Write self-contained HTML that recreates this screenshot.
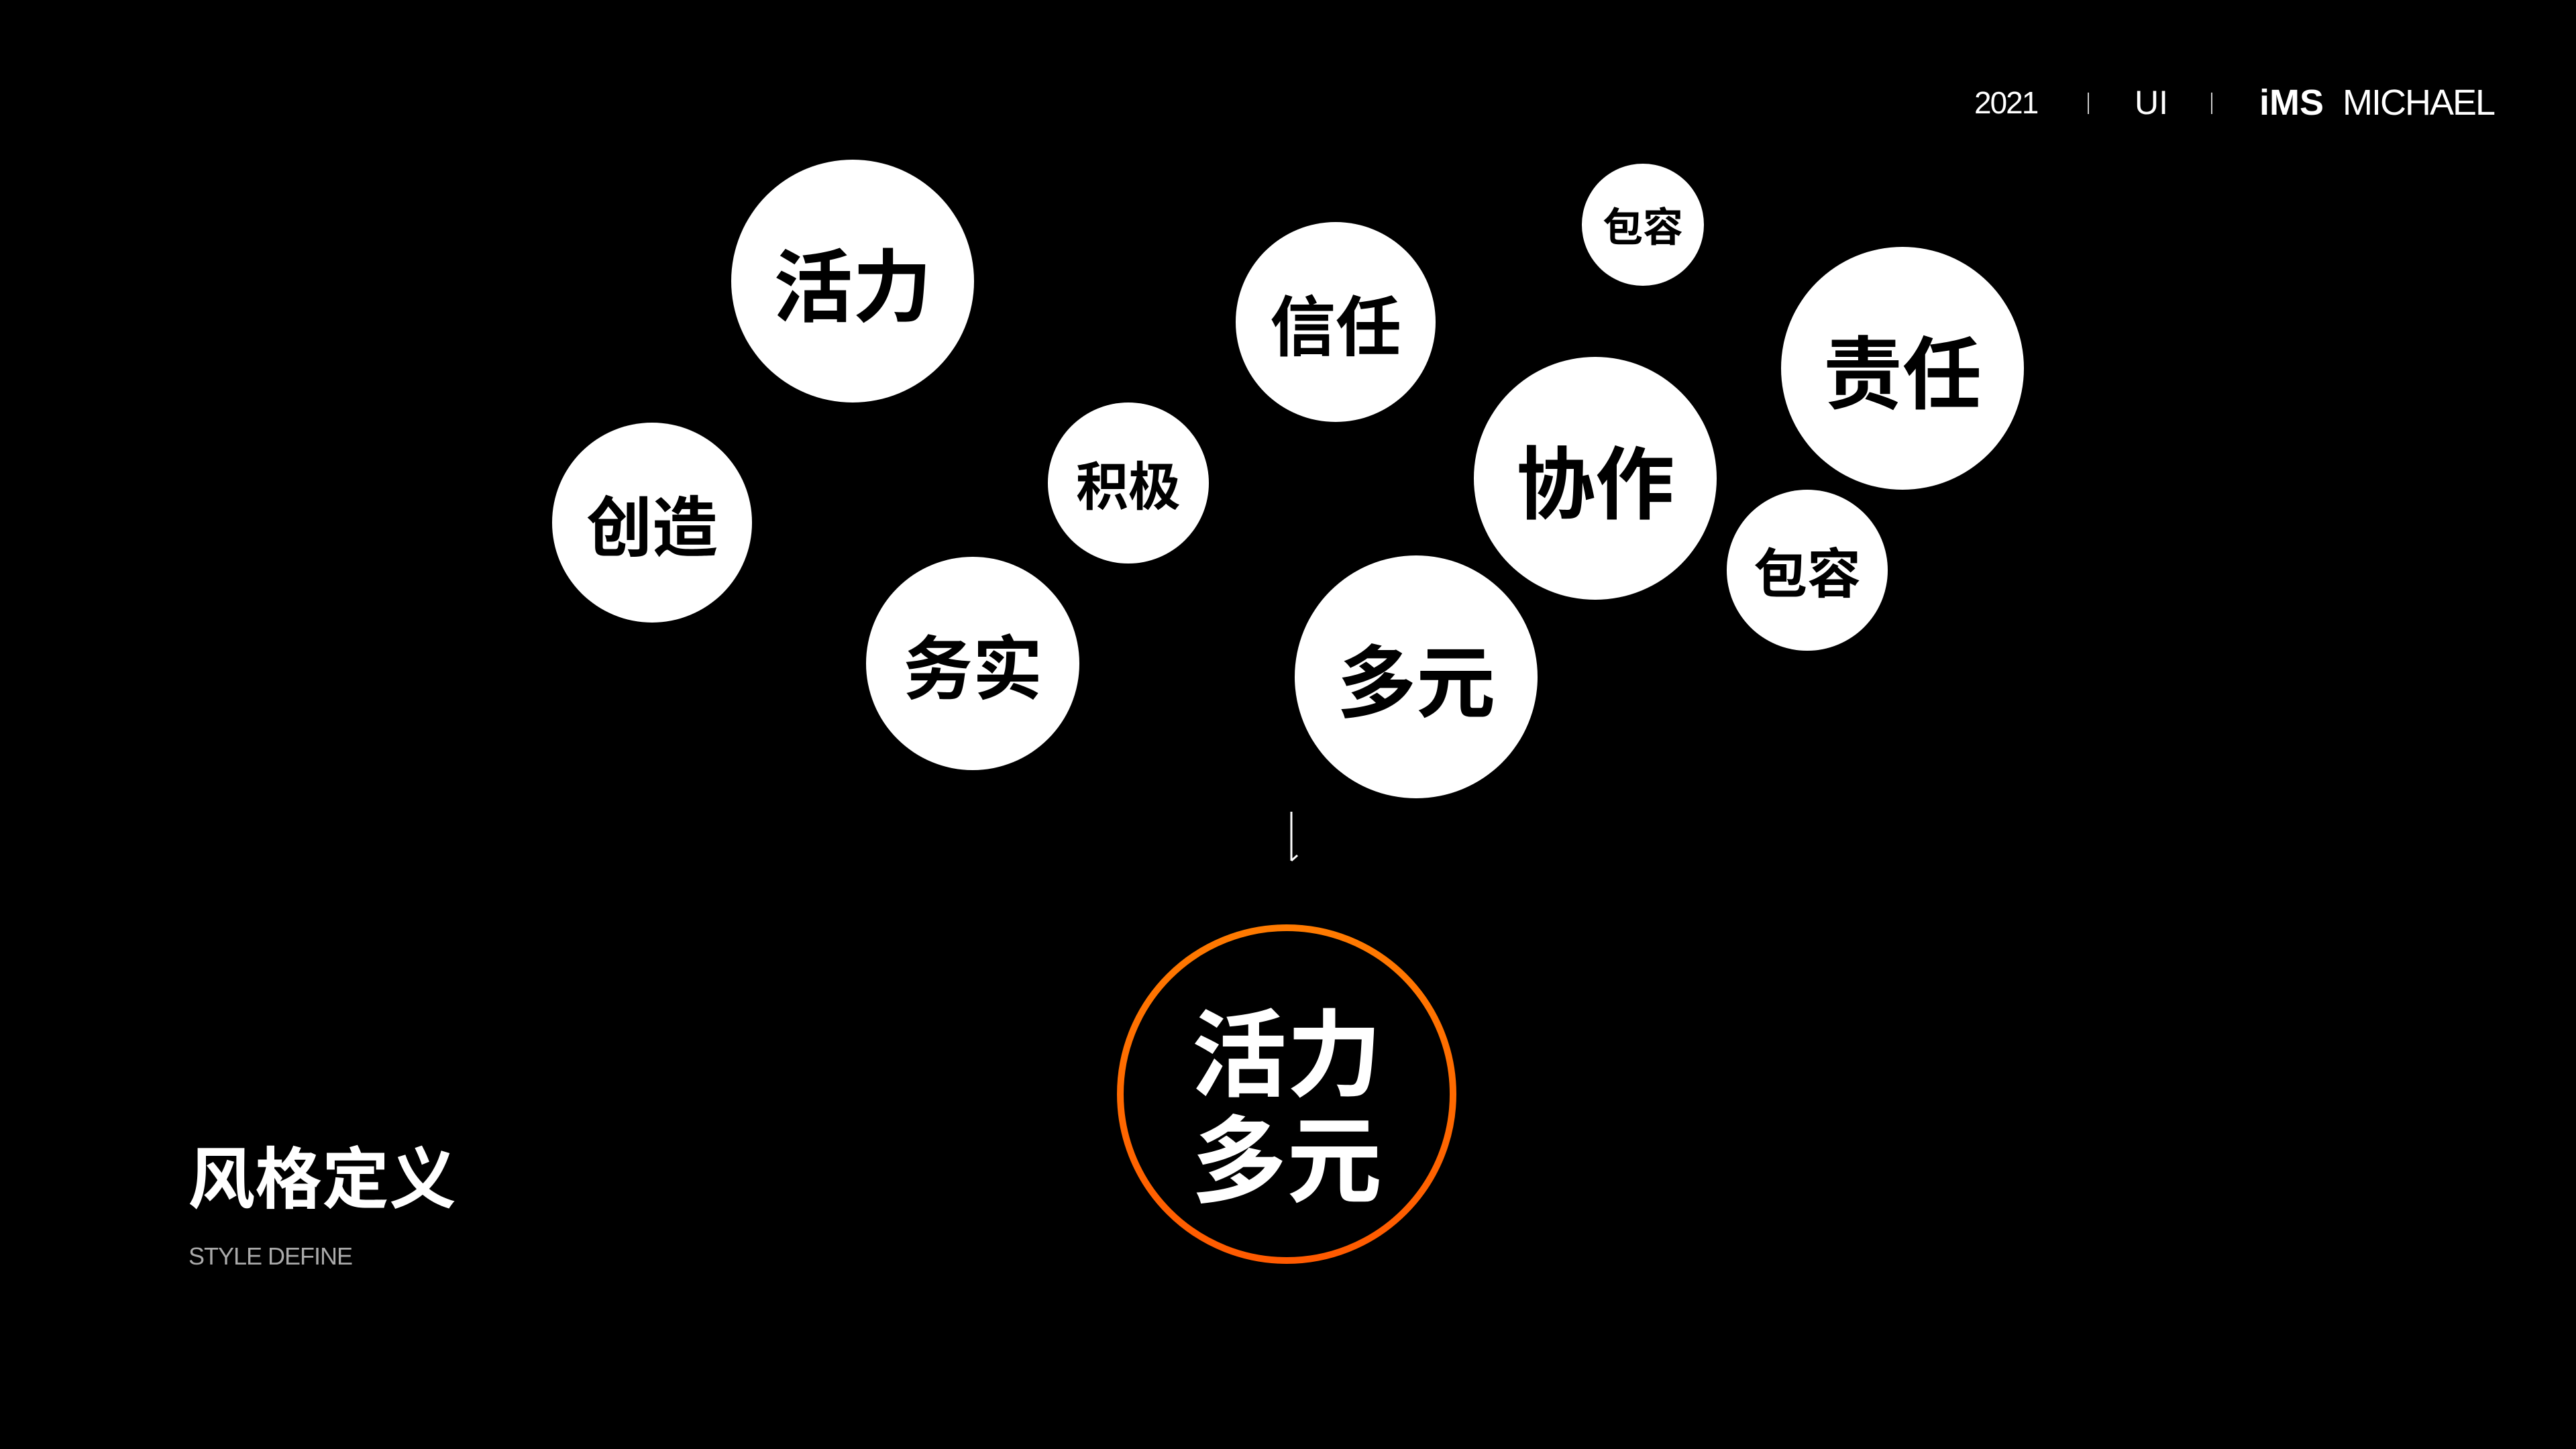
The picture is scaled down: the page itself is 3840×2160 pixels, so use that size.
<!DOCTYPE html>
<html><head><meta charset="utf-8"><style>
html,body{margin:0;padding:0;background:#000;}
body{width:3840px;height:2160px;position:relative;overflow:hidden;font-family:"Liberation Sans","Noto Sans CJK SC",sans-serif;}
.c{position:absolute;border-radius:50%;background:#fff;color:#000;display:flex;align-items:center;justify-content:center;font-family:"Noto Sans CJK SC",sans-serif;font-weight:700;line-height:1;}
.t{position:absolute;color:#fff;white-space:nowrap;line-height:1;}
</style></head><body>
<div class="c" style="left:1090px;top:238px;width:362px;height:362px;font-size:118px;">活力</div>
<div class="c" style="left:1842px;top:331px;width:298px;height:298px;font-size:98px;">信任</div>
<div class="c" style="left:2358px;top:244px;width:182px;height:182px;font-size:60px;">包容</div>
<div class="c" style="left:2655px;top:368px;width:362px;height:362px;font-size:118px;">责任</div>
<div class="c" style="left:823px;top:630px;width:298px;height:298px;font-size:98px;">创造</div>
<div class="c" style="left:1562px;top:600px;width:240px;height:240px;font-size:78px;">积极</div>
<div class="c" style="left:2197px;top:532px;width:362px;height:362px;font-size:118px;">协作</div>
<div class="c" style="left:2574px;top:730px;width:240px;height:240px;font-size:80px;">包容</div>
<div class="c" style="left:1291px;top:830px;width:318px;height:318px;font-size:104px;">务实</div>
<div class="c" style="left:1930px;top:828px;width:362px;height:362px;font-size:118px;">多元</div>

<svg style="position:absolute;left:0;top:0" width="3840" height="2160">
<defs><linearGradient id="g" x1="0" y1="0" x2="0" y2="1"><stop offset="0" stop-color="#ff7a00"/><stop offset="1" stop-color="#ff5a00"/></linearGradient></defs>
<line x1="1925" y1="1210" x2="1925" y2="1283" stroke="#fff" stroke-width="3"/>
<line x1="1925" y1="1283" x2="1934" y2="1275" stroke="#fff" stroke-width="3"/>
<circle cx="1918" cy="1631" r="248" fill="none" stroke="url(#g)" stroke-width="10"/>
</svg>
<div class="t" style="left:1718px;top:1482px;width:400px;text-align:center;font-family:'Noto Sans CJK SC',sans-serif;font-weight:700;font-size:142px;line-height:158px;">活力<br>多元</div>

<div class="t" style="left:280px;top:1700px;font-family:'Noto Sans CJK SC',sans-serif;font-weight:700;font-size:100px;">风格定义</div>
<div class="t" style="left:281px;top:1855px;font-size:36px;color:#aaa;letter-spacing:-1px;">STYLE DEFINE</div>

<div class="t" style="left:2943px;top:130px;font-size:46px;letter-spacing:-2px;">2021</div>
<div style="position:absolute;left:3112px;top:138px;width:2px;height:32px;background:#ccc"></div>
<div class="t" style="left:3182px;top:128px;font-size:50px;">UI</div>
<div style="position:absolute;left:3296px;top:138px;width:2px;height:32px;background:#ccc"></div>
<div class="t" style="left:3368px;top:126px;font-size:54px;font-weight:700;">iMS</div>
<div class="t" style="left:3492px;top:126px;font-size:54px;letter-spacing:-2px;">MICHAEL</div>
</body></html>
